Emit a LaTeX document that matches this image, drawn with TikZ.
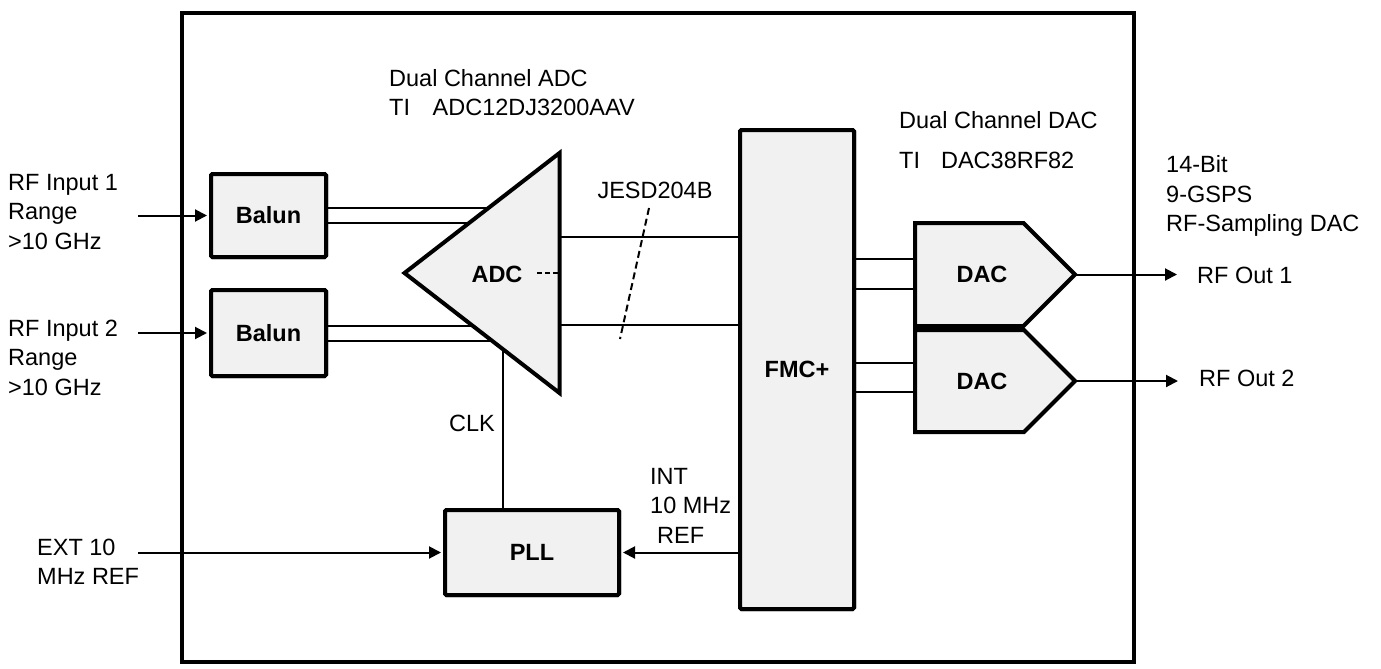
\documentclass[tikz,border=0pt]{standalone}
\usepackage{fontspec}
\setmainfont{Liberation Sans}
\usetikzlibrary{arrows.meta,calc}
\definecolor{boxfill}{RGB}{241,241,241}
\begin{document}
\begin{tikzpicture}[x=1pt,y=-1pt,
  blk/.style={draw=black,fill=boxfill,line width=4pt,rounded corners=1.5pt,inner sep=0pt,
    font=\fontsize{23.5}{29.5}\selectfont\bfseries},
  shp/.style={draw=black,fill=boxfill,line width=4pt,line join=miter},
  wire/.style={line width=2pt},
  arr/.style={line width=2pt,-{Triangle[length=12pt,width=12pt]}},
  lbl/.style={font=\fontsize{23.5}{29.5}\selectfont,inner sep=0pt,align=left},
  blbl/.style={font=\fontsize{23.5}{29.5}\selectfont\bfseries,inner sep=0pt},
  dsh/.style={line width=2pt,dash pattern=on 7pt off 4pt},
  ]
\useasboundingbox (0,0) rectangle (1381,669);

% outer board
\draw[line width=4pt] (181.5,13) rectangle (1133.5,662);

% block nodes (positions)
\node[blk,minimum width=115pt,minimum height=83pt] (b1) at (268.5,215.5) {};
\node[blk,minimum width=115pt,minimum height=86pt] (b2) at (268.5,333) {};
\node[blk,minimum width=174pt,minimum height=85pt] (pll) at (532,552.5) {};
\node[blk,minimum width=114pt,minimum height=479pt] (fmc) at (797,369.5) {};

% ADC triangle coordinates
\coordinate (adcA) at (404.5,273);
\coordinate (adcT) at (559.5,153);
\coordinate (adcB) at (559.5,393);
\coordinate (adcR) at (559.5,273);
\coordinate (ao1) at (559.5,237);
\coordinate (ao2) at (559.5,325);
\coordinate (clkTop) at (503,330);

% DAC coordinates
\coordinate (d1L) at (915,274.5);
\coordinate (d1P) at (1075,274.5);
\coordinate (d2L) at (915,381);
\coordinate (d2P) at (1075,381);

% wires under the shapes
\draw[wire] ([yshift=7.5pt]b1.east) -- ([yshift=7.5pt]b1.east -| adcR);
\draw[wire] ([yshift=-7.5pt]b1.east) -- ([yshift=-7.5pt]b1.east -| adcR);
\draw[wire] ([yshift=7.5pt]b2.east) -- ([yshift=7.5pt]b2.east -| adcR);
\draw[wire] ([yshift=-7.5pt]b2.east) -- ([yshift=-7.5pt]b2.east -| adcR);
\draw[wire] (clkTop) -- (clkTop |- pll.north);
\draw[wire] (ao1) -- (ao1 -| fmc.west);
\draw[wire] (ao2) -- (ao2 -| fmc.west);
\draw[wire] ([yshift=15.5pt]fmc.east |- d1L) -- ([yshift=15.5pt]d1L);
\draw[wire] ([yshift=-14.5pt]fmc.east |- d1L) -- ([yshift=-14.5pt]d1L);
\draw[wire] ([yshift=18pt]fmc.east |- d2L) -- ([yshift=18pt]d2L);
\draw[wire] ([yshift=-11pt]fmc.east |- d2L) -- ([yshift=-11pt]d2L);

% redraw blocks on top
\node[blk,minimum width=115pt,minimum height=83pt] at (b1) {Balun};
\node[blk,minimum width=115pt,minimum height=86pt] at (b2) {Balun};
\node[blk,minimum width=174pt,minimum height=85pt] at (pll) {PLL};
\node[blk,minimum width=114pt,minimum height=479pt] at (fmc) {FMC+};

% ADC triangle
\draw[shp] (adcA) -- (adcT) -- (adcB) -- cycle;
\node[blbl] (adct) at (497,274) {ADC};
\draw[dsh,dash pattern=on 5pt off 3pt] (537,273) -- (adcR);

% DAC pentagons
\draw[shp] (915,223) -- (1023.5,223) -- (d1P) -- (1023.5,326) -- (915,326) -- cycle;
\draw[shp] (915,330) -- (1024,330) -- (d2P) -- (1024,432) -- (915,432) -- cycle;
\node[blbl] (dac1) at (982,274) {DAC};
\node[blbl] (dac2) at (982,381) {DAC};

% JESD dashed marker
\coordinate (j1) at (649,208);
\coordinate (j2) at (620,339);
\draw[dsh] (j1) -- (j2);

% input / output arrows
\coordinate (in1) at (138,215.5);
\coordinate (in2) at (138,333);
\coordinate (ext) at (138,552.5);
\coordinate (out1) at (1177,274.5);
\coordinate (out2) at (1178,381);
\draw[arr,shorten >=2pt] (in1) -- (in1 -| b1.west);
\draw[arr,shorten >=2pt] (in2) -- (in2 -| b2.west);
\draw[arr,shorten >=2pt] (ext) -- (ext -| pll.west);
\draw[arr,shorten >=2pt] (fmc.west |- pll.east) -- (pll.east);
\draw[arr] (d1P) -- (out1);
\draw[arr] (d2P) -- (out2);

% labels
\node[lbl,anchor=north west] (tin1) at (8,173.7) {RF Input 1\\Range\\>10 GHz};
\node[lbl,anchor=north west] (tin2) at (8,319.7) {RF Input 2\\Range\\>10 GHz};
\node[lbl,anchor=north west] (text) at (37,538.7) {EXT 10\\MHz REF};
\node[lbl,anchor=north west] (tadc1) at (389,69) {Dual Channel ADC};
\node[lbl,anchor=north west] (tadc2) at (389,98.7) {TI\hspace{22.6pt}ADC12DJ3200AAV};
\node[lbl,anchor=north west] (tdac1) at (899,111) {Dual Channel DAC};
\node[lbl,anchor=north west] (tdac2) at (899,151.7) {TI\hspace{21pt}DAC38RF82};
\node[lbl,anchor=north west] (tspec) at (1166,155.7) {14-Bit\\9-GSPS\\RF-Sampling DAC};
\node[lbl,anchor=west] (tout1) at (1197,275) {RF Out 1};
\node[lbl,anchor=west] (tout2) at (1199,378) {RF Out 2};
\node[lbl] (tclk) at (472,423) {CLK};
\node[lbl,anchor=north west] (tint) at (650,467.7) {INT\\10 MHz\\\hspace{7pt}REF};
\node[lbl] (tjesd) at (655,190) {JESD204B};
\end{tikzpicture}
\end{document}
